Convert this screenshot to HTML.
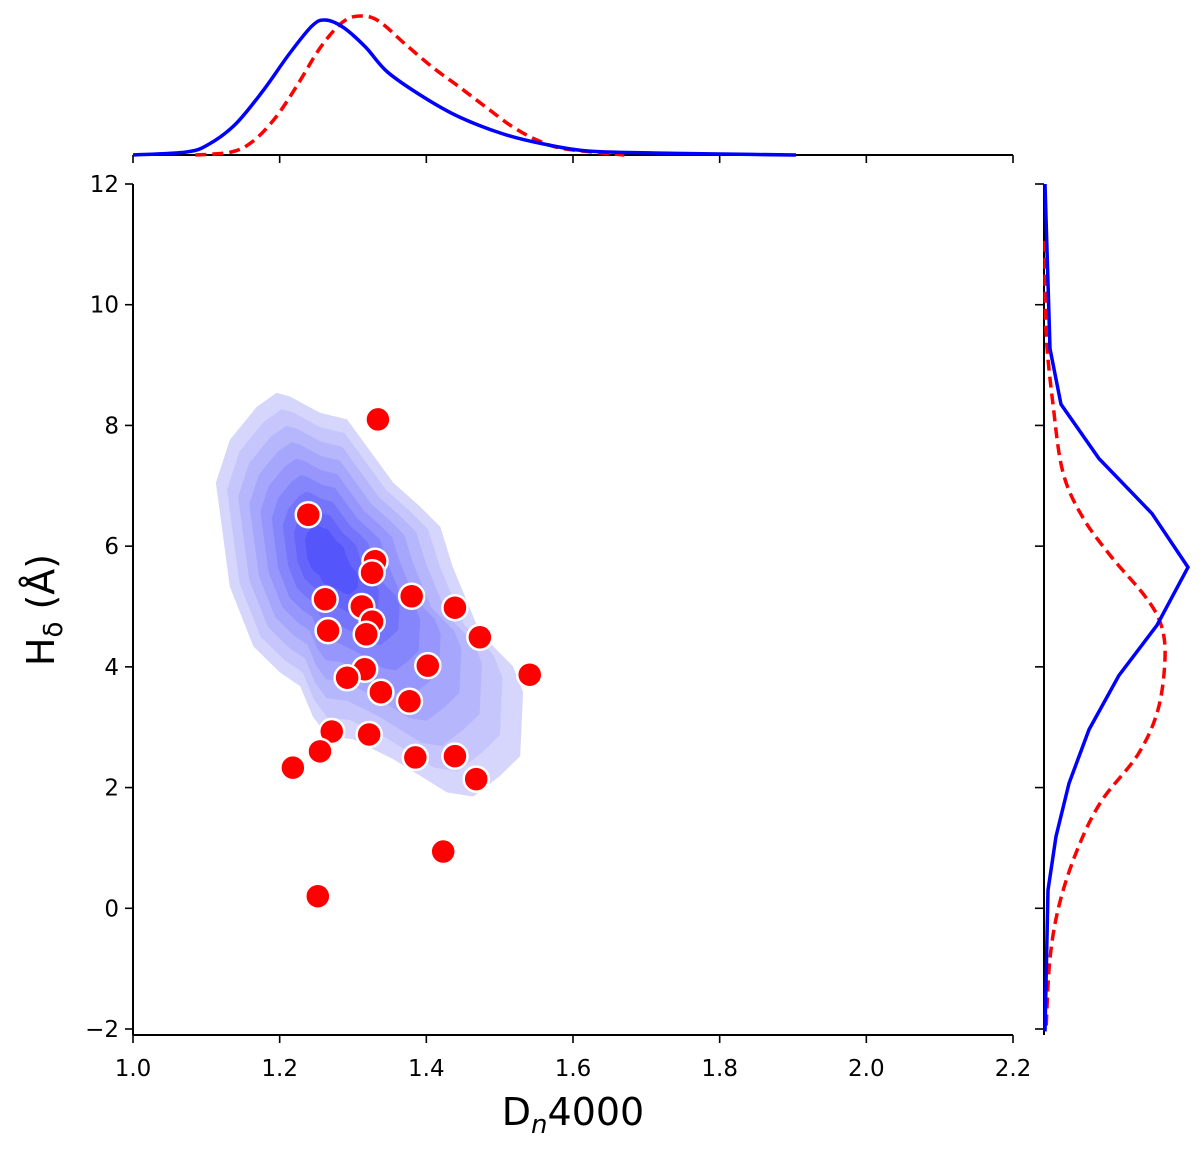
<!DOCTYPE html>
<html><head><meta charset="utf-8"><style>
body{margin:0;background:#fff}
svg{display:block;font-family:"DejaVu Sans","Liberation Sans",sans-serif}
</style></head><body>
<svg id="chart" width="1200" height="1150" viewBox="0 0 1200 1150" xmlns="http://www.w3.org/2000/svg">
<g id="contours"></g>
<g id="points"></g>
<g id="axes"></g>
<g id="topm"></g>
<g id="rightm"></g>
<text x="573" y="1125" font-size="38" text-anchor="middle">D<tspan font-size="26" font-style="italic" dy="8">n</tspan><tspan dy="-8">4000</tspan></text>
<text transform="translate(54,610) rotate(-90)" font-size="38" text-anchor="middle">H<tspan font-size="26" dy="8">δ</tspan><tspan dy="-8"> (Å)</tspan></text>
</svg>
<script>
const xTicks=[1.0,1.2,1.4,1.6,1.8,2.0,2.2];
const yTicks=[-2,0,2,4,6,8,10,12];
const ptX=[1.334,1.239,1.330,1.326,1.262,1.312,1.326,1.318,1.266,1.380,1.439,1.473,1.541,1.402,1.316,1.292,1.338,1.377,1.271,1.322,1.385,1.439,1.468,1.255,1.218,1.423,1.252];
const ptY=[8.10,6.52,5.75,5.56,5.12,5.00,4.75,4.54,4.60,5.17,4.98,4.49,3.87,4.02,3.96,3.82,3.58,3.43,2.93,2.88,2.50,2.52,2.14,2.60,2.33,0.94,0.20];
const contourX=[1.196,1.169,1.132,1.113,1.132,1.164,1.200,1.228,1.245,1.265,1.300,1.355,1.428,1.464,1.500,1.528,1.532,1.518,1.473,1.436,1.419,1.391,1.355,1.319,1.292,1.255,1.214];
const contourY=[8.54,8.31,7.76,7.05,5.33,4.34,3.91,3.68,3.18,2.85,2.80,2.47,1.92,1.85,2.19,2.52,3.58,4.01,4.57,5.66,6.32,6.66,7.05,7.65,8.10,8.21,8.48];
const peakX=1.26, peakY=5.9;
const topBlueX=[1.0,1.073,1.104,1.14,1.177,1.213,1.244,1.262,1.286,1.317,1.347,1.396,1.445,1.505,1.56,1.62,1.71,1.80,1.904];
const topBlueD=[0,3,11,31,64,101,129,135,128,108,83,58,38,21,11,4,2,1,0];
const topRedX=[1.085,1.134,1.164,1.195,1.225,1.256,1.286,1.31,1.335,1.371,1.408,1.445,1.481,1.518,1.554,1.59,1.67];
const topRedD=[0,3,14,38,71,108,133,139,134,111,88,68,48,28,14,6,0];
const rBlueY=[12.0,9.27,8.35,7.45,6.54,5.65,4.69,3.86,2.96,2.07,1.19,0.30,-2.04];
const rBlueD=[1,6,17,55,108,144,113,75,45,25,12,4,1];
const rRedY=[11.06,9.57,8.35,7.22,6.47,5.81,5.17,4.70,4.14,3.29,2.55,1.79,1.04,0.11,-0.83,-2.04];
const rRedD=[1,2,9,19,39,68,101,117,121,114,94,58,35,16,6,2];

const NS='http://www.w3.org/2000/svg';
const X0=133,X1=1013,Y0=184,Y1=1029;
const sx=v=>X0+(v-1.0)/(2.2-1.0)*(X1-X0);
const sy=v=>Y1-(v+2)/(12+2)*(Y1-Y0);
const TB=155, RB=1044;
const td=d=>TB-d; const rd=d=>RB+d;
function mk(tag,attrs,parent){const e=document.createElementNS(NS,tag);for(const k in attrs)e.setAttribute(k,attrs[k]);parent.appendChild(e);return e;}

const cg=document.getElementById('contours');
const N=9;
for(let k=0;k<N;k++){
  const a=k/N*0.93;
  const pts=contourX.map((x,i)=>{const px=x*(1-a)+peakX*a, py=contourY[i]*(1-a)+peakY*a;return sx(px).toFixed(1)+','+sy(py).toFixed(1);}).join(' ');
  const t=k/(N-1);
  const c=`rgb(${Math.round(214-t*129)},${Math.round(214-t*129)},${Math.round(252)})`;
  const p=mk('polygon',{points:pts,fill:c},cg);
  
  
}
const pg=document.getElementById('points');
ptX.forEach((x,i)=>{
  const c=mk('circle',{cx:sx(x),cy:sy(ptY[i]),r:12.5,fill:'#ff0000',stroke:'#fff','stroke-width':2.5},pg);
  
  
});
const ag=document.getElementById('axes');
mk('line',{x1:X0,y1:Y0,x2:X0,y2:1035,stroke:'#000','stroke-width':2},ag);
mk('line',{x1:X0,y1:1035,x2:X1,y2:1035,stroke:'#000','stroke-width':2},ag);
xTicks.forEach(v=>{
  mk('line',{x1:sx(v),y1:1035,x2:sx(v),y2:1043,stroke:'#000','stroke-width':1.6},ag);
  const t=mk('text',{x:sx(v),y:1076,'font-size':23,'text-anchor':'middle'},ag);
  t.textContent=v.toFixed(1);
  
  
});
yTicks.forEach(v=>{
  mk('line',{x1:X0,y1:sy(v),x2:X0-8,y2:sy(v),stroke:'#000','stroke-width':1.6},ag);
  const t=mk('text',{x:X0-14,y:sy(v)+8,'font-size':23,'text-anchor':'end'},ag);
  t.textContent=v<0?'\u2212'+Math.abs(v):String(v);
  
  
});
function smooth(P){let d='M'+P[0][0]+','+P[0][1];for(let i=0;i<P.length-1;i++){const p0=P[i-1]||P[i],p1=P[i],p2=P[i+1],p3=P[i+2]||p2;d+=' C'+(p1[0]+(p2[0]-p0[0])/6)+','+(p1[1]+(p2[1]-p0[1])/6)+' '+(p2[0]-(p3[0]-p1[0])/6)+','+(p2[1]-(p3[1]-p1[1])/6)+' '+p2[0]+','+p2[1];}return d;}
const tg=document.getElementById('topm');
mk('line',{x1:X0,y1:TB,x2:X1,y2:TB,stroke:'#000','stroke-width':2},tg);
xTicks.forEach(v=>mk('line',{x1:sx(v),y1:TB,x2:sx(v),y2:TB+8,stroke:'#000','stroke-width':1.6},tg));
let e=mk('path',{d:smooth(topRedX.map((x,i)=>[sx(x),td(topRedD[i])])),fill:'none',stroke:'#ff0000','stroke-width':3.5,'stroke-dasharray':'11 6'},tg);


e=mk('path',{d:smooth(topBlueX.map((x,i)=>[sx(x),td(topBlueD[i])])),fill:'none',stroke:'#0000ff','stroke-width':3.5},tg);


const rg=document.getElementById('rightm');
mk('line',{x1:RB,y1:Y0,x2:RB,y2:1035,stroke:'#000','stroke-width':2},rg);
yTicks.forEach(v=>mk('line',{x1:RB,y1:sy(v),x2:RB-9,y2:sy(v),stroke:'#000','stroke-width':1.6},rg));
e=mk('path',{d:smooth(rRedY.map((y,i)=>[rd(rRedD[i]),sy(y)])),fill:'none',stroke:'#ff0000','stroke-width':3.5,'stroke-dasharray':'11 6'},rg);


e=mk('polyline',{points:rBlueY.map((y,i)=>rd(rBlueD[i])+','+sy(y)).join(' '),fill:'none',stroke:'#0000ff','stroke-width':3.5},rg);


</script>
</body></html>
